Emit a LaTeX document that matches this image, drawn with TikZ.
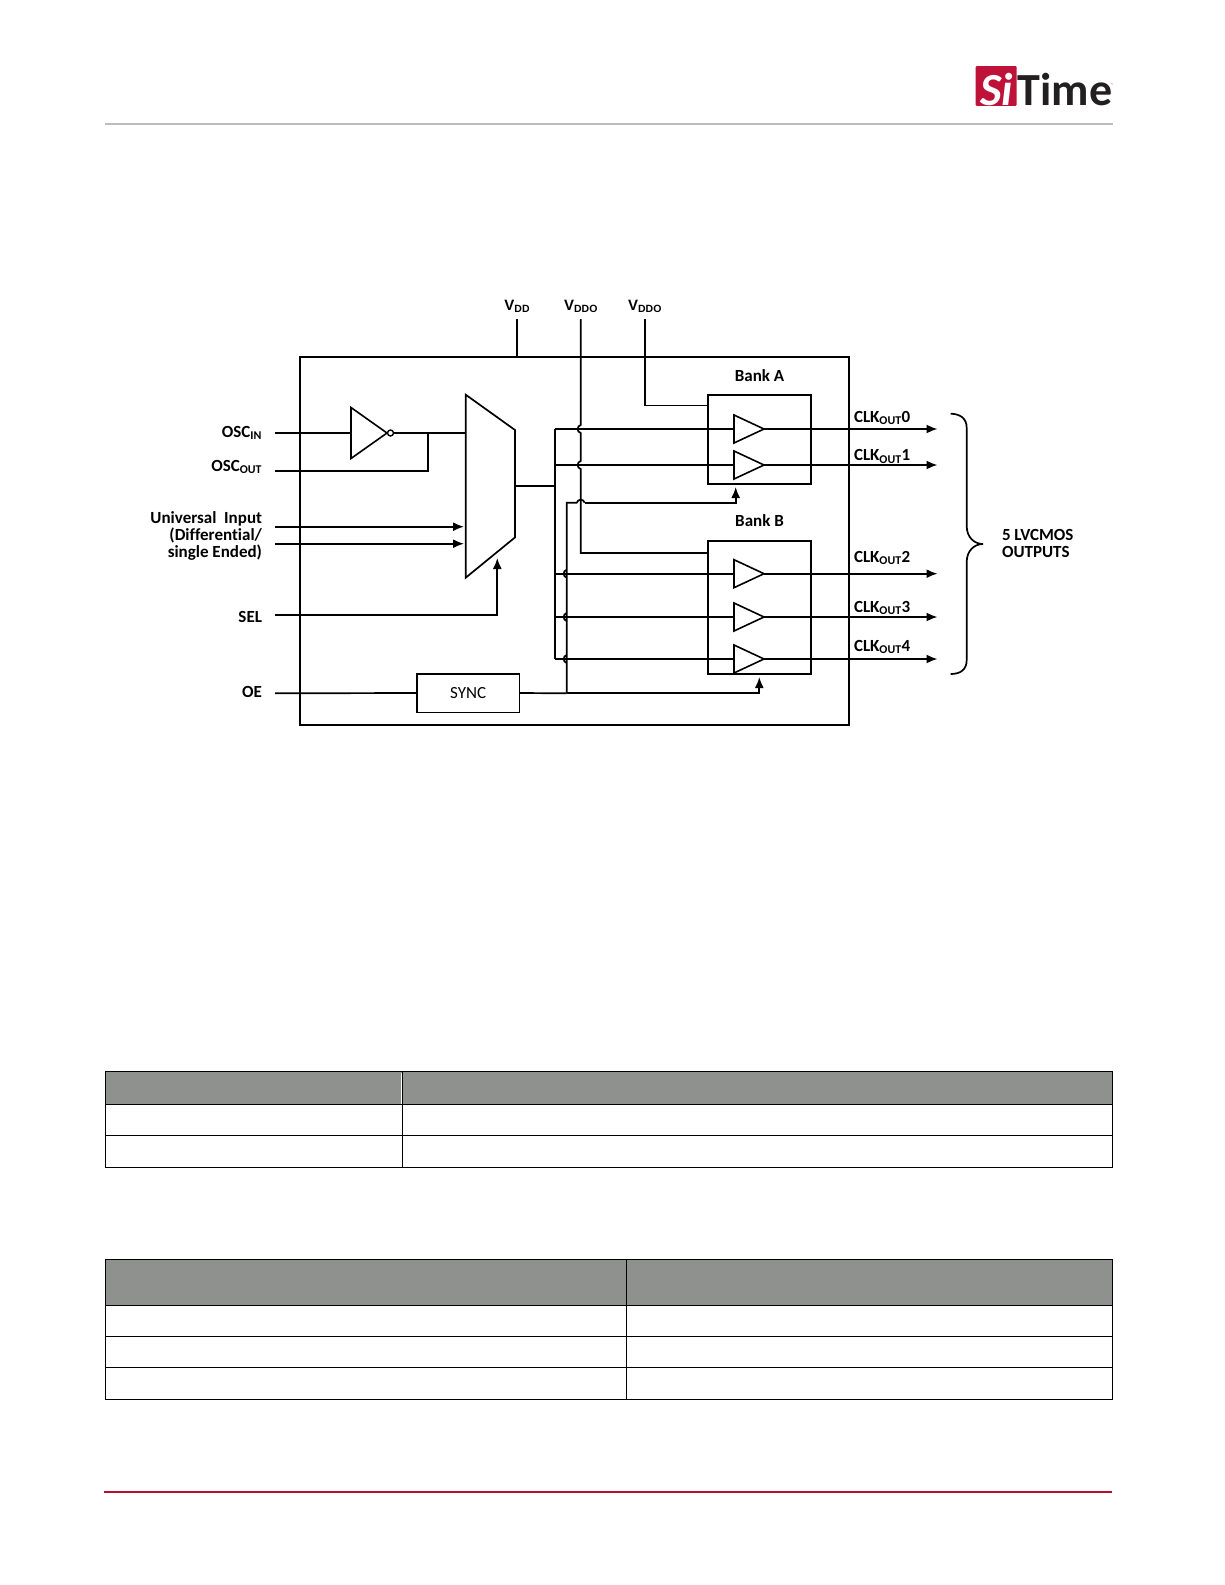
\documentclass[tikz,border=0pt]{standalone}
\usepackage{fontspec}
\setmainfont{Carlito}[Ligatures=NoCommon]
\newfontfamily\railfont{Liberation Sans}
\usetikzlibrary{arrows.meta, shapes.geometric}
\definecolor{tablegray}{HTML}{8F918F}
\definecolor{logored}{HTML}{BE1238}
\definecolor{logoblack}{HTML}{231F20}
\definecolor{footred}{HTML}{BA0C2F}
\definecolor{headrule}{HTML}{BDBDBD}
% small bend of a vertical wire past a horizontal one
\newcommand{\hopleft}[2]{-- (#1,#2-4) .. controls (#1-4,#2-3) and (#1-4,#2+3) .. (#1,#2+4)}

\begin{document}
\begin{tikzpicture}[
    x=1pt, y=-1pt,
    % Styles
    wire/.style={line width=1.7pt, line join=miter},
    arrow/.style={wire, -{Latex[length=11pt, width=9pt]}},
    block/.style={rectangle, draw, line width=1.6pt, inner sep=0pt, outer sep=0pt},
    chipbox/.style={block, line width=2pt, minimum width=549pt, minimum height=368pt},
    bankbox/.style={block, minimum width=102.7pt},
    buffer/.style={isosceles triangle, isosceles triangle stretches, draw, line width=1.6pt, inner sep=0pt, outer sep=0pt, minimum width=28pt, minimum height=30pt, anchor=lower side},
    lbl/.style={font=\fontsize{17}{17}\bfseries\selectfont, inner sep=0pt, outer sep=0pt},
    rail/.style={font=\fontsize{15}{17}\railfont\bfseries\selectfont, inner sep=0pt, anchor=base},
    tabrule/.style={line width=1pt}
]
\useasboundingbox (0,0) rectangle (1225,1585);

% HEADER
\node[fill=logored, rounded corners=1pt, inner sep=0pt, minimum width=41pt, minimum height=39.7pt] (logobox) at (996.2,85.9) {};
\node[font=\fontsize{46}{46}\bfseries\itshape\selectfont, text=white, inner sep=0pt, anchor=base] (logosi) at (996.5,105) {Si};
\node[font=\fontsize{46}{46}\bfseries\selectfont, text=logoblack, inner sep=0pt, anchor=base west] (logotime) at (1017.5,105) {Time};
\node[font=\fontsize{4}{4}\selectfont, text=logoblack, inner sep=0pt] (logoreg) at (1112.5,85) {®};
\draw[headrule, line width=2pt] (105,124) -- (1113,124);

% CHIP
\node[chipbox] (chip) at (574.5,541) {};

% SUPPLY PINS
\node[rail] (vdd) at (517.3,310) {V\textsubscript{DD}};
\node[rail] (vddoa) at (581,310) {V\textsubscript{DDO}};
\node[rail] (vddob) at (645,310) {V\textsubscript{DDO}};

% INPUT SIDE
\node[lbl, anchor=base east] (oscin) at (262,437) {OSC\textsubscript{IN}};
\node[lbl, anchor=base east] (oscout) at (262,471) {OSC\textsubscript{OUT}};
\node[lbl, anchor=east, align=right] (univ) at (262,535.8) {Universal~~Input\\(Differential/\\single Ended)};
\node[lbl, anchor=base east] (sel) at (262,622) {SEL};
\node[lbl, anchor=base east] (oe) at (262,697.5) {OE};

\coordinate (oscin_pin) at (275,433);
\coordinate (oscout_pin) at (275,471);
\coordinate (univ_p) at (275,526.7);
\coordinate (univ_n) at (275,543.7);
\coordinate (sel_pin) at (275,615.3);
\coordinate (oe_pin) at (275,693.3);

\node[isosceles triangle, isosceles triangle stretches, draw, line width=1.6pt, inner sep=0pt, outer sep=0pt, minimum width=51pt, minimum height=36pt, anchor=lower side] (inv) at (351,433) {};
\node[circle, draw, line width=1.4pt, inner sep=0pt, outer sep=0pt, minimum size=6pt] (bubble) at (390.5,433) {};

% mux outline
\draw[wire] (465.7,394.7) -- (515,430) -- (515,537.4) -- (465.7,577.7) -- cycle;
\coordinate (mux_in) at (465.7,433);
\coordinate (mux_out) at (515,486.2);

\node[block, minimum width=102.8pt, minimum height=38.6pt, font=\fontsize{17}{17}\selectfont] (sync) at (468.1,693) {SYNC};

% BANKS
\node[bankbox, minimum height=89pt] (banka) at (759.35,439.2) {};
\node[bankbox, minimum height=133.3pt] (bankb) at (759.35,607.35) {};
\node[lbl] (banka_lbl) at (759.5,375.5) {Bank A};
\node[lbl] (bankb_lbl) at (759.5,521) {Bank B};

\foreach \bufname/\bufy in {bufa/429, bufb/465, bufc/573.7, bufd/617, bufe/659} {
    \node[buffer] (\bufname) at (734,\bufy) {};
    \coordinate (\bufname_out) at (937.5,\bufy);
    \coordinate (\bufname_bus) at (555,\bufy);
    \draw[wire] (\bufname_bus) -- (\bufname.lower side);
    \draw[arrow] (\bufname.apex) -- (\bufname_out);
}

% OUTPUT LABELS
\node[lbl, anchor=base west] (clk0) at (854,422) {CLK\textsubscript{OUT}0};
\node[lbl, anchor=base west] (clk1) at (854,460.7) {CLK\textsubscript{OUT}1};
\node[lbl, anchor=base west] (clk2) at (854,562) {CLK\textsubscript{OUT}2};
\node[lbl, anchor=base west] (clk3) at (854,612) {CLK\textsubscript{OUT}3};
\node[lbl, anchor=base west] (clk4) at (854,651) {CLK\textsubscript{OUT}4};
\node[lbl, anchor=west, align=left] (lvcmos) at (1002,543) {5 LVCMOS\\OUTPUTS};

% OUTPUT BRACE
\draw[wire] (950.7,413.7) .. controls (960,414) and (966.7,418) .. (966.7,428) -- (966.7,526) .. controls (966.7,537) and (974,544) .. (983,544) .. controls (974,544) and (966.7,551) .. (966.7,562) -- (966.7,660) .. controls (966.7,670) and (960,674) .. (950.7,674);

% CONNECTING WIRES
\draw[wire] (vdd.south |- 0,319) -- (chip.north -| vdd.south);
\draw[wire] (580.7,319) \hopleft{580.7}{429} \hopleft{580.7}{465} -- (580.7,553) -- (bankb.west |- 0,553);
\draw[wire] (645,319) -- (645,405.5) -- (banka.west |- 0,405.5);

\draw[wire] (oscin_pin) -- (inv.lower side);
\draw[wire] (bubble.east) -- (mux_in);
\draw[wire] (oscout_pin) -| (427.7,433);
\draw[arrow] (univ_p) -- (464,526.7);
\draw[arrow] (univ_n) -- (464,543.7);
\draw[arrow] (sel_pin) -| (497.3,558);
\draw[wire] (oe_pin) -- (sync.west);

% clock bus and output enable
\draw[wire] (mux_out) -- (555,486.2);
\draw[wire] (555,429) -- (555,659);
\draw[wire] (sync.east) -- (566.7,693.3);
\draw[arrow] (566.7,693.3) -| (759.3,677);
\draw[wire] (566.7,693.3) \hopleft{566.7}{659} \hopleft{566.7}{617} \hopleft{566.7}{573.7} -- (566.7,502.7) -- (576.7,502.7) .. controls (578,498.7) and (583.4,498.7) .. (584.7,502.7);
\draw[arrow] (584.7,502.7) -| (735.7,487);

% TABLES
\fill[tablegray] (105.3,1071.7) rectangle (1112.3,1104);
\fill[tablegray] (105.3,1259.7) rectangle (1112.3,1305.3);
\draw[white, line width=0.8pt] (401,1072.5) -- (401,1103.5);
\draw[tabrule] (105.3,1071.7) rectangle (1112.3,1167.3);
\draw[tabrule] (402.3,1071.7) -- (402.3,1167.3);
\foreach \ruley in {1104, 1135.3} {
    \draw[tabrule] (105.3,\ruley) -- (1112.3,\ruley);
}
\draw[tabrule] (105.3,1259.7) rectangle (1112.3,1399.3);
\draw[tabrule] (626.5,1259.7) -- (626.5,1399.3);
\foreach \ruley in {1305.3, 1336.3, 1367.3} {
    \draw[tabrule] (105.3,\ruley) -- (1112.3,\ruley);
}

% FOOTER
\draw[footred, line width=2pt] (104,1491.5) -- (1112,1491.5);

\end{tikzpicture}
\end{document}
